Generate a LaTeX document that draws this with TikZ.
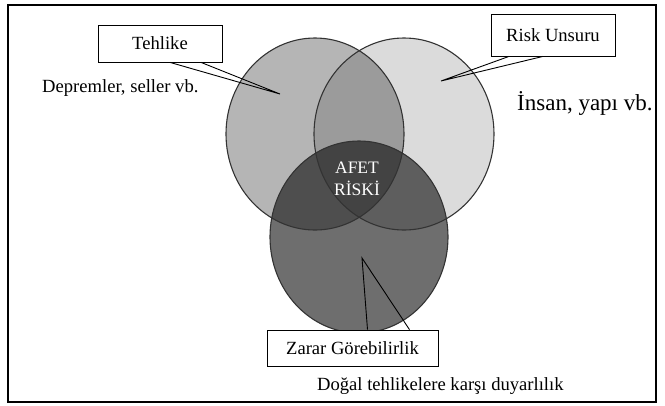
\documentclass[tikz,border=0pt]{standalone}
\usepackage{fontspec}
\setmainfont{Liberation Serif}
\usepackage{tikz}
\usetikzlibrary{positioning, calc}

\begin{document}
\begin{tikzpicture}[x=1pt, y=-1pt,
    labelbox/.style={draw=black, line width=0.8pt, fill=white, inner sep=0pt,
        font=\fontsize{18.6}{22}\selectfont},
    plain/.style={inner sep=0pt, font=\fontsize{18.6}{22}\selectfont},
    venn/.style={fill=black, fill opacity=#1},
    rim/.style={draw=black!80, line width=1.1pt},
    wedge/.style={line width=0.9pt}]

    % Frame
    \useasboundingbox (0,0) rectangle (665,405);
    \draw[line width=2.5pt] (8,5) rectangle (656,402);

    % Centres of the three sets
    \coordinate (hazard) at (315,134);
    \coordinate (element) at (404,134);
    \coordinate (vulner) at (359,237);

    % Shaded sets
    \fill[venn=0.29] (hazard) ellipse [x radius=89pt, y radius=96pt];
    \fill[venn=0.14] (element) ellipse [x radius=90pt, y radius=96pt];
    \fill[venn=0.57] (vulner) ellipse [x radius=89pt, y radius=96pt];

    % Outlines
    \draw[rim] (hazard) ellipse [x radius=89pt, y radius=96pt];
    \draw[rim] (element) ellipse [x radius=90pt, y radius=96pt];
    \draw[rim] (vulner) ellipse [x radius=89pt, y radius=96pt];

    % Labels
    \node[labelbox, minimum width=124pt, minimum height=37pt] (tehlike) at (160,43.5) {Tehlike};
    \node[labelbox, minimum width=124pt, minimum height=42pt] (risk) at (553,35) {Risk Unsuru};
    \node[labelbox, minimum width=171pt, minimum height=36pt] (zarar) at (352.5,348) {Zarar Görebilirlik};

    \node[plain, anchor=west] (deprem) at (42,88) {Depremler, seller vb.};
    \node[inner sep=0pt, anchor=west, font=\fontsize{23}{26}\selectfont] (insan) at (517,103) {İnsan, yapı vb.};
    \node[plain, anchor=west] (dogal) at (317,386) {Doğal tehlikelere karşı duyarlılık};
    \node[inner sep=0pt, align=center, text=white,
        font=\fontsize{17.5}{22}\selectfont] (afet) at (357,179) {AFET\\RİSKİ};

    % Callout wedges
    \coordinate (tehlikeTip) at (280,94);
    \coordinate (riskTip) at (441,81);
    \coordinate (zararTip) at (362,258);
    \draw[wedge] ([xshift=10pt]tehlike.south) -- (tehlikeTip) -- ([xshift=41pt]tehlike.south);
    \draw[wedge] ([xshift=-44pt]risk.south) -- (riskTip) -- ([xshift=-10pt]risk.south);
    \draw[wedge] ([xshift=15pt]zarar.north) -- (zararTip) -- ([xshift=57pt]zarar.north);
\end{tikzpicture}
\end{document}
